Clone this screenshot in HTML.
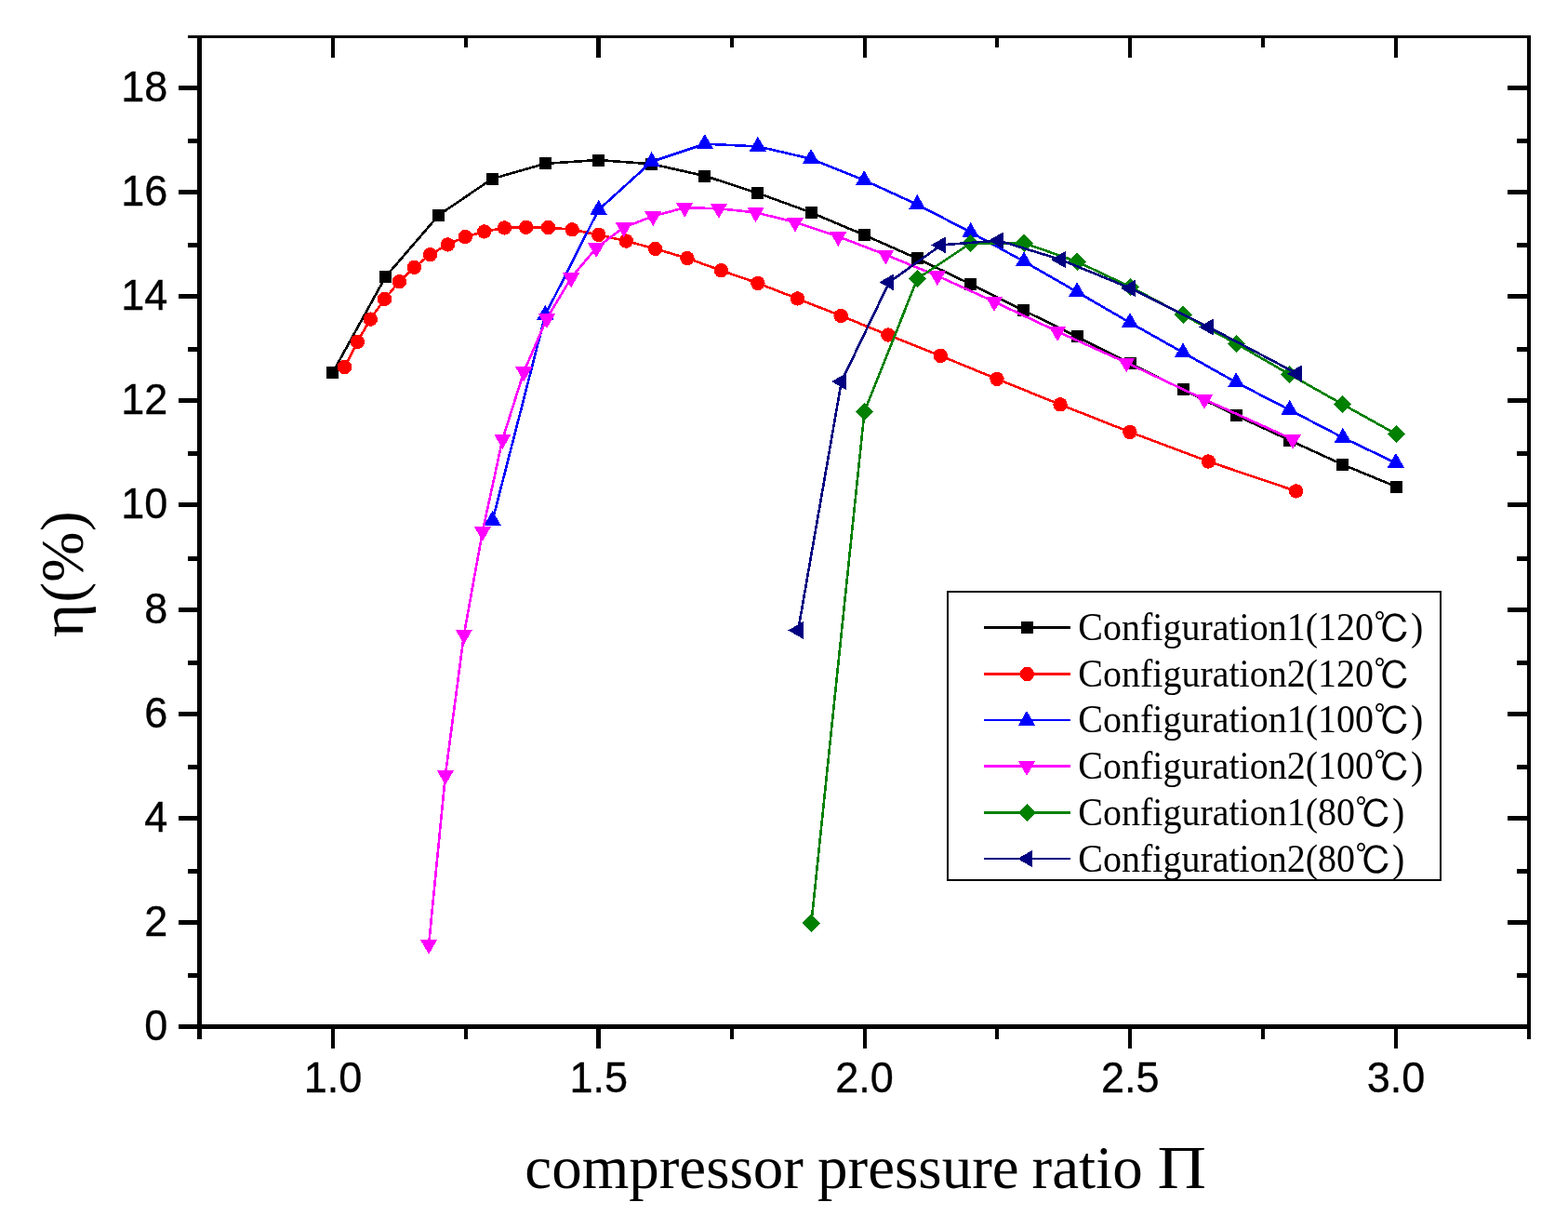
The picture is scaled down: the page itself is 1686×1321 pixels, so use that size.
<!DOCTYPE html>
<html lang="en">
<head>
<meta charset="utf-8">
<title>Efficiency vs compressor pressure ratio</title>
<style>
html,body{margin:0;padding:0;background:#fff;}
body{width:1686px;height:1321px;overflow:hidden;}
svg{display:block;}
</style>
</head>
<body>
<svg width="1686" height="1321" viewBox="0 0 1686 1321">
<rect x="0" y="0" width="1686" height="1321" fill="#ffffff"/>
<g shape-rendering="crispEdges">
<rect x="212" y="38" width="5" height="1079" fill="#000"/>
<rect x="1642" y="38" width="4" height="1079" fill="#000"/>
<rect x="202" y="38" width="1444" height="3" fill="#000"/>
<rect x="192" y="1101" width="1454" height="5" fill="#000"/>
<rect x="202" y="1046" width="10" height="5" fill="#000"/>
<rect x="1631" y="1046" width="11" height="5" fill="#000"/>
<rect x="192" y="989" width="20" height="5" fill="#000"/>
<rect x="1621" y="989" width="21" height="5" fill="#000"/>
<rect x="202" y="934" width="10" height="5" fill="#000"/>
<rect x="1631" y="934" width="11" height="5" fill="#000"/>
<rect x="192" y="877" width="20" height="5" fill="#000"/>
<rect x="1621" y="877" width="21" height="5" fill="#000"/>
<rect x="202" y="822" width="10" height="5" fill="#000"/>
<rect x="1631" y="822" width="11" height="5" fill="#000"/>
<rect x="192" y="765" width="20" height="5" fill="#000"/>
<rect x="1621" y="765" width="21" height="5" fill="#000"/>
<rect x="202" y="710" width="10" height="5" fill="#000"/>
<rect x="1631" y="710" width="11" height="5" fill="#000"/>
<rect x="192" y="653" width="20" height="5" fill="#000"/>
<rect x="1621" y="653" width="21" height="5" fill="#000"/>
<rect x="202" y="598" width="10" height="5" fill="#000"/>
<rect x="1631" y="598" width="11" height="5" fill="#000"/>
<rect x="192" y="540" width="20" height="5" fill="#000"/>
<rect x="1621" y="540" width="21" height="5" fill="#000"/>
<rect x="202" y="485" width="10" height="5" fill="#000"/>
<rect x="1631" y="485" width="11" height="5" fill="#000"/>
<rect x="192" y="428" width="20" height="5" fill="#000"/>
<rect x="1621" y="428" width="21" height="5" fill="#000"/>
<rect x="202" y="373" width="10" height="5" fill="#000"/>
<rect x="1631" y="373" width="11" height="5" fill="#000"/>
<rect x="192" y="316" width="20" height="5" fill="#000"/>
<rect x="1621" y="316" width="21" height="5" fill="#000"/>
<rect x="202" y="261" width="10" height="5" fill="#000"/>
<rect x="1631" y="261" width="11" height="5" fill="#000"/>
<rect x="192" y="204" width="20" height="5" fill="#000"/>
<rect x="1621" y="204" width="21" height="5" fill="#000"/>
<rect x="202" y="149" width="10" height="5" fill="#000"/>
<rect x="1631" y="149" width="11" height="5" fill="#000"/>
<rect x="192" y="92" width="20" height="5" fill="#000"/>
<rect x="1621" y="92" width="21" height="5" fill="#000"/>
<rect x="356" y="1106" width="4" height="21" fill="#000"/>
<rect x="356" y="41" width="4" height="21" fill="#000"/>
<rect x="499" y="1106" width="4" height="11" fill="#000"/>
<rect x="499" y="41" width="4" height="10" fill="#000"/>
<rect x="641" y="1106" width="5" height="21" fill="#000"/>
<rect x="641" y="41" width="5" height="21" fill="#000"/>
<rect x="785" y="1106" width="4" height="11" fill="#000"/>
<rect x="785" y="41" width="4" height="10" fill="#000"/>
<rect x="928" y="1106" width="4" height="21" fill="#000"/>
<rect x="928" y="41" width="4" height="21" fill="#000"/>
<rect x="1070" y="1106" width="4" height="11" fill="#000"/>
<rect x="1070" y="41" width="4" height="10" fill="#000"/>
<rect x="1213" y="1106" width="4" height="21" fill="#000"/>
<rect x="1213" y="41" width="4" height="21" fill="#000"/>
<rect x="1356" y="1106" width="4" height="11" fill="#000"/>
<rect x="1356" y="41" width="4" height="10" fill="#000"/>
<rect x="1499" y="1106" width="4" height="21" fill="#000"/>
<rect x="1499" y="41" width="4" height="21" fill="#000"/>
</g>
<g font-family="'Liberation Sans', Arial, Helvetica, sans-serif" font-size="46.8px" fill="#000" stroke="#000" stroke-width="0.35">
<text transform="translate(180.2,1117.9) scale(0.962,1)" text-anchor="end">0</text>
<text transform="translate(180.2,1005.8) scale(0.962,1)" text-anchor="end">2</text>
<text transform="translate(180.2,893.7) scale(0.962,1)" text-anchor="end">4</text>
<text transform="translate(180.2,781.6) scale(0.962,1)" text-anchor="end">6</text>
<text transform="translate(180.2,669.5) scale(0.962,1)" text-anchor="end">8</text>
<text transform="translate(180.2,557.4) scale(0.962,1)" text-anchor="end">10</text>
<text transform="translate(180.2,445.3) scale(0.962,1)" text-anchor="end">12</text>
<text transform="translate(180.2,333.2) scale(0.962,1)" text-anchor="end">14</text>
<text transform="translate(180.2,221.1) scale(0.962,1)" text-anchor="end">16</text>
<text transform="translate(180.2,109.0) scale(0.962,1)" text-anchor="end">18</text>
<text transform="translate(358.0,1174.2) scale(0.962,1)" text-anchor="middle">1.0</text>
<text transform="translate(643.8,1174.2) scale(0.962,1)" text-anchor="middle">1.5</text>
<text transform="translate(929.5,1174.2) scale(0.962,1)" text-anchor="middle">2.0</text>
<text transform="translate(1215.2,1174.2) scale(0.962,1)" text-anchor="middle">2.5</text>
<text transform="translate(1501.0,1174.2) scale(0.962,1)" text-anchor="middle">3.0</text>
</g>
<g font-family="'Liberation Serif', 'Times New Roman', serif" font-size="65px" fill="#000">
<text transform="translate(0,1277.2) scale(1,1.02)" xml:space="preserve"><tspan x="564.3">compressor</tspan> <tspan x="879.1">pressure</tspan> <tspan x="1109.6">ratio</tspan> <tspan x="1244.6" textLength="52.5" lengthAdjust="spacingAndGlyphs">Π</tspan></text>
<text transform="translate(88.5,685) rotate(-90) scale(1,1.02)"><tspan x="0" textLength="36.4" lengthAdjust="spacingAndGlyphs">η</tspan><tspan x="37.6">(</tspan><tspan x="59.2">%</tspan><tspan x="114">)</tspan></text>
</g>
<g shape-rendering="crispEdges">
<g>
<polyline points="357.5,400.9 414.6,297.5 471.7,231.3 529.0,192.3 586.2,175.9 643.4,172.0 700.6,176.3 757.7,189.0 814.9,207.6 872.0,228.4 929.2,252.6 986.4,277.9 1043.6,305.4 1100.8,333.7 1158.0,361.9 1215.1,390.4 1272.3,418.9 1329.4,446.6 1386.6,473.2 1443.8,499.4 1501.0,523.0" fill="none" stroke="#000000" stroke-width="2.6" stroke-linejoin="round"/>
<rect x="351.0" y="394.4" width="13" height="13" fill="#000000"/>
<rect x="408.1" y="291.0" width="13" height="13" fill="#000000"/>
<rect x="465.2" y="224.8" width="13" height="13" fill="#000000"/>
<rect x="522.5" y="185.8" width="13" height="13" fill="#000000"/>
<rect x="579.7" y="169.4" width="13" height="13" fill="#000000"/>
<rect x="636.9" y="165.5" width="13" height="13" fill="#000000"/>
<rect x="694.1" y="169.8" width="13" height="13" fill="#000000"/>
<rect x="751.2" y="182.5" width="13" height="13" fill="#000000"/>
<rect x="808.4" y="201.1" width="13" height="13" fill="#000000"/>
<rect x="865.5" y="221.9" width="13" height="13" fill="#000000"/>
<rect x="922.7" y="246.1" width="13" height="13" fill="#000000"/>
<rect x="979.9" y="271.4" width="13" height="13" fill="#000000"/>
<rect x="1037.1" y="298.9" width="13" height="13" fill="#000000"/>
<rect x="1094.3" y="327.2" width="13" height="13" fill="#000000"/>
<rect x="1151.5" y="355.4" width="13" height="13" fill="#000000"/>
<rect x="1208.6" y="383.9" width="13" height="13" fill="#000000"/>
<rect x="1265.8" y="412.4" width="13" height="13" fill="#000000"/>
<rect x="1322.9" y="440.1" width="13" height="13" fill="#000000"/>
<rect x="1380.1" y="466.7" width="13" height="13" fill="#000000"/>
<rect x="1437.3" y="492.9" width="13" height="13" fill="#000000"/>
<rect x="1494.5" y="516.5" width="13" height="13" fill="#000000"/>
</g>
<g>
<polyline points="370.5,394.6 384.3,367.3 398.3,343.1 413.5,321.4 429.4,302.8 445.4,287.3 462.6,273.7 481.4,262.9 500.2,254.6 520.7,248.9 542.4,244.9 565.7,244.3 589.5,244.5 615.2,246.8 643.8,252.4 673.3,259.1 704.6,267.4 739.0,277.6 775.4,290.7 814.9,304.4 857.5,321.0 904.2,339.5 954.9,360.0 1011.2,382.4 1072.0,407.4 1140.0,434.8 1214.9,464.4 1299.3,496.0 1393.6,527.9" fill="none" stroke="#ff0000" stroke-width="2.6" stroke-linejoin="round"/>
<circle cx="370.5" cy="394.6" r="7.7" fill="#ff0000"/>
<circle cx="384.3" cy="367.3" r="7.7" fill="#ff0000"/>
<circle cx="398.3" cy="343.1" r="7.7" fill="#ff0000"/>
<circle cx="413.5" cy="321.4" r="7.7" fill="#ff0000"/>
<circle cx="429.4" cy="302.8" r="7.7" fill="#ff0000"/>
<circle cx="445.4" cy="287.3" r="7.7" fill="#ff0000"/>
<circle cx="462.6" cy="273.7" r="7.7" fill="#ff0000"/>
<circle cx="481.4" cy="262.9" r="7.7" fill="#ff0000"/>
<circle cx="500.2" cy="254.6" r="7.7" fill="#ff0000"/>
<circle cx="520.7" cy="248.9" r="7.7" fill="#ff0000"/>
<circle cx="542.4" cy="244.9" r="7.7" fill="#ff0000"/>
<circle cx="565.7" cy="244.3" r="7.7" fill="#ff0000"/>
<circle cx="589.5" cy="244.5" r="7.7" fill="#ff0000"/>
<circle cx="615.2" cy="246.8" r="7.7" fill="#ff0000"/>
<circle cx="643.8" cy="252.4" r="7.7" fill="#ff0000"/>
<circle cx="673.3" cy="259.1" r="7.7" fill="#ff0000"/>
<circle cx="704.6" cy="267.4" r="7.7" fill="#ff0000"/>
<circle cx="739.0" cy="277.6" r="7.7" fill="#ff0000"/>
<circle cx="775.4" cy="290.7" r="7.7" fill="#ff0000"/>
<circle cx="814.9" cy="304.4" r="7.7" fill="#ff0000"/>
<circle cx="857.5" cy="321.0" r="7.7" fill="#ff0000"/>
<circle cx="904.2" cy="339.5" r="7.7" fill="#ff0000"/>
<circle cx="954.9" cy="360.0" r="7.7" fill="#ff0000"/>
<circle cx="1011.2" cy="382.4" r="7.7" fill="#ff0000"/>
<circle cx="1072.0" cy="407.4" r="7.7" fill="#ff0000"/>
<circle cx="1140.0" cy="434.8" r="7.7" fill="#ff0000"/>
<circle cx="1214.9" cy="464.4" r="7.7" fill="#ff0000"/>
<circle cx="1299.3" cy="496.0" r="7.7" fill="#ff0000"/>
<circle cx="1393.6" cy="527.9" r="7.7" fill="#ff0000"/>
</g>
<g>
<polyline points="529.6,559.5 586.4,338.4 643.6,225.6 700.7,173.8 757.8,154.7 814.9,157.4 872.0,170.7 929.2,193.7 986.3,219.8 1043.6,249.6 1101.0,281.0 1158.1,313.8 1215.0,346.8 1272.0,378.9 1329.2,411.0 1386.6,440.6 1443.9,470.4 1500.9,497.6" fill="none" stroke="#0000ff" stroke-width="2.6" stroke-linejoin="round"/>
<polygon points="529.6,548.8 538.8,564.8 520.4,564.8" fill="#0000ff"/>
<polygon points="586.4,327.7 595.6,343.7 577.2,343.7" fill="#0000ff"/>
<polygon points="643.6,214.9 652.8,230.9 634.4,230.9" fill="#0000ff"/>
<polygon points="700.7,163.1 709.9,179.1 691.5,179.1" fill="#0000ff"/>
<polygon points="757.8,144.0 767.0,160.0 748.6,160.0" fill="#0000ff"/>
<polygon points="814.9,146.7 824.1,162.7 805.7,162.7" fill="#0000ff"/>
<polygon points="872.0,160.0 881.2,176.0 862.8,176.0" fill="#0000ff"/>
<polygon points="929.2,183.0 938.4,199.0 920.0,199.0" fill="#0000ff"/>
<polygon points="986.3,209.1 995.5,225.1 977.1,225.1" fill="#0000ff"/>
<polygon points="1043.6,238.9 1052.8,254.9 1034.4,254.9" fill="#0000ff"/>
<polygon points="1101.0,270.3 1110.2,286.3 1091.8,286.3" fill="#0000ff"/>
<polygon points="1158.1,303.1 1167.3,319.1 1148.9,319.1" fill="#0000ff"/>
<polygon points="1215.0,336.1 1224.2,352.1 1205.8,352.1" fill="#0000ff"/>
<polygon points="1272.0,368.2 1281.2,384.2 1262.8,384.2" fill="#0000ff"/>
<polygon points="1329.2,400.3 1338.4,416.3 1320.0,416.3" fill="#0000ff"/>
<polygon points="1386.6,429.9 1395.8,445.9 1377.4,445.9" fill="#0000ff"/>
<polygon points="1443.9,459.7 1453.1,475.7 1434.7,475.7" fill="#0000ff"/>
<polygon points="1500.9,486.9 1510.1,502.9 1491.7,502.9" fill="#0000ff"/>
</g>
<g>
<polyline points="461.1,1015.2 478.9,833.3 498.9,682.0 518.9,571.1 540.4,472.1 563.3,399.6 588.0,342.4 614.1,298.7 641.1,266.5 670.8,244.4 702.2,232.4 736.2,223.2 772.9,224.2 812.5,228.4 855.0,238.9 901.3,254.2 952.4,273.9 1007.9,296.5 1069.0,324.3 1137.1,356.4 1211.3,389.9 1295.0,429.3 1389.9,472.2" fill="none" stroke="#ff00ff" stroke-width="2.6" stroke-linejoin="round"/>
<polygon points="461.1,1025.9 470.3,1009.9 451.9,1009.9" fill="#ff00ff"/>
<polygon points="478.9,844.0 488.1,828.0 469.7,828.0" fill="#ff00ff"/>
<polygon points="498.9,692.7 508.1,676.7 489.7,676.7" fill="#ff00ff"/>
<polygon points="518.9,581.8 528.1,565.8 509.7,565.8" fill="#ff00ff"/>
<polygon points="540.4,482.8 549.6,466.8 531.2,466.8" fill="#ff00ff"/>
<polygon points="563.3,410.3 572.5,394.3 554.1,394.3" fill="#ff00ff"/>
<polygon points="588.0,353.1 597.2,337.1 578.8,337.1" fill="#ff00ff"/>
<polygon points="614.1,309.4 623.3,293.4 604.9,293.4" fill="#ff00ff"/>
<polygon points="641.1,277.2 650.3,261.2 631.9,261.2" fill="#ff00ff"/>
<polygon points="670.8,255.1 680.0,239.1 661.6,239.1" fill="#ff00ff"/>
<polygon points="702.2,243.1 711.4,227.1 693.0,227.1" fill="#ff00ff"/>
<polygon points="736.2,233.9 745.4,217.9 727.0,217.9" fill="#ff00ff"/>
<polygon points="772.9,234.9 782.1,218.9 763.7,218.9" fill="#ff00ff"/>
<polygon points="812.5,239.1 821.7,223.1 803.3,223.1" fill="#ff00ff"/>
<polygon points="855.0,249.6 864.2,233.6 845.8,233.6" fill="#ff00ff"/>
<polygon points="901.3,264.9 910.5,248.9 892.1,248.9" fill="#ff00ff"/>
<polygon points="952.4,284.6 961.6,268.6 943.2,268.6" fill="#ff00ff"/>
<polygon points="1007.9,307.2 1017.1,291.2 998.7,291.2" fill="#ff00ff"/>
<polygon points="1069.0,335.0 1078.2,319.0 1059.8,319.0" fill="#ff00ff"/>
<polygon points="1137.1,367.1 1146.3,351.1 1127.9,351.1" fill="#ff00ff"/>
<polygon points="1211.3,400.6 1220.5,384.6 1202.1,384.6" fill="#ff00ff"/>
<polygon points="1295.0,440.0 1304.2,424.0 1285.8,424.0" fill="#ff00ff"/>
<polygon points="1389.9,482.9 1399.1,466.9 1380.7,466.9" fill="#ff00ff"/>
</g>
<g>
<polyline points="872.4,992.2 929.5,442.4 986.5,299.4 1043.7,261.4 1101.2,261.3 1158.3,281.3 1215.4,308.4 1272.2,338.4 1329.5,369.5 1386.6,402.4 1443.7,434.6 1501.3,466.6" fill="none" stroke="#008000" stroke-width="2.6" stroke-linejoin="round"/>
<polygon points="872.4,982.6 882.0,992.2 872.4,1001.8 862.8,992.2" fill="#008000"/>
<polygon points="929.5,432.8 939.1,442.4 929.5,452.0 919.9,442.4" fill="#008000"/>
<polygon points="986.5,289.8 996.1,299.4 986.5,309.0 976.9,299.4" fill="#008000"/>
<polygon points="1043.7,251.8 1053.3,261.4 1043.7,271.0 1034.1,261.4" fill="#008000"/>
<polygon points="1101.2,251.7 1110.8,261.3 1101.2,270.9 1091.6,261.3" fill="#008000"/>
<polygon points="1158.3,271.7 1167.9,281.3 1158.3,290.9 1148.7,281.3" fill="#008000"/>
<polygon points="1215.4,298.8 1225.0,308.4 1215.4,318.0 1205.8,308.4" fill="#008000"/>
<polygon points="1272.2,328.8 1281.8,338.4 1272.2,348.0 1262.6,338.4" fill="#008000"/>
<polygon points="1329.5,359.9 1339.1,369.5 1329.5,379.1 1319.9,369.5" fill="#008000"/>
<polygon points="1386.6,392.8 1396.2,402.4 1386.6,412.0 1377.0,402.4" fill="#008000"/>
<polygon points="1443.7,425.0 1453.3,434.6 1443.7,444.2 1434.1,434.6" fill="#008000"/>
<polygon points="1501.3,457.0 1510.9,466.6 1501.3,476.2 1491.7,466.6" fill="#008000"/>
</g>
<g>
<polyline points="858.2,677.5 904.8,410.1 956.1,303.4 1011.9,263.4 1073.7,258.5 1140.6,279.1 1215.6,309.9 1299.6,351.5 1394.6,401.6" fill="none" stroke="#000080" stroke-width="2.6" stroke-linejoin="round"/>
<polygon points="847.5,677.5 863.5,668.3 863.5,686.7" fill="#000080"/>
<polygon points="894.1,410.1 910.1,400.9 910.1,419.3" fill="#000080"/>
<polygon points="945.4,303.4 961.4,294.2 961.4,312.6" fill="#000080"/>
<polygon points="1001.2,263.4 1017.2,254.2 1017.2,272.6" fill="#000080"/>
<polygon points="1063.0,258.5 1079.0,249.3 1079.0,267.7" fill="#000080"/>
<polygon points="1129.9,279.1 1145.9,269.9 1145.9,288.3" fill="#000080"/>
<polygon points="1204.9,309.9 1220.9,300.7 1220.9,319.1" fill="#000080"/>
<polygon points="1288.9,351.5 1304.9,342.3 1304.9,360.7" fill="#000080"/>
<polygon points="1383.9,401.6 1399.9,392.4 1399.9,410.8" fill="#000080"/>
</g>
</g>
<rect x="1019" y="636" width="530" height="310" fill="#fff" stroke="#000" stroke-width="2.2" shape-rendering="crispEdges"/>
<g shape-rendering="crispEdges">
<rect x="1058" y="673" width="93" height="3" fill="#000000" shape-rendering="crispEdges"/>
<rect x="1098.0" y="668.0" width="13" height="13" fill="#000000"/>
<rect x="1058" y="723" width="93" height="3" fill="#ff0000" shape-rendering="crispEdges"/>
<circle cx="1104.4" cy="724.5" r="7.7" fill="#ff0000"/>
<rect x="1058" y="773" width="93" height="2" fill="#0000ff" shape-rendering="crispEdges"/>
<polygon points="1104.0,763.9 1113.2,779.9 1094.8,779.9" fill="#0000ff"/>
<rect x="1058" y="822" width="93" height="3" fill="#ff00ff" shape-rendering="crispEdges"/>
<polygon points="1104.0,834.0 1113.2,818.0 1094.8,818.0" fill="#ff00ff"/>
<rect x="1058" y="872" width="93" height="3" fill="#008000" shape-rendering="crispEdges"/>
<polygon points="1104.4,863.9 1114.0,873.5 1104.4,883.1 1094.8,873.5" fill="#008000"/>
<rect x="1058" y="922" width="93" height="2" fill="#000080" shape-rendering="crispEdges"/>
<polygon points="1094.1,923.0 1110.1,913.8 1110.1,932.2" fill="#000080"/>
</g>
<g font-family="'Liberation Serif', 'IPAGothic', 'Noto Serif CJK SC', serif" font-size="40px" fill="#000">
<text transform="translate(1159.3,687.7) scale(1,1.03)">Configuration1(120<tspan dy="3">℃</tspan><tspan dy="-3">)</tspan></text>
<text transform="translate(1159.3,737.5) scale(1,1.03)">Configuration2(120<tspan dy="3">℃</tspan></text>
<text transform="translate(1159.3,787.2) scale(1,1.03)">Configuration1(100<tspan dy="3">℃</tspan><tspan dy="-3">)</tspan></text>
<text transform="translate(1159.3,837.0) scale(1,1.03)">Configuration2(100<tspan dy="3">℃</tspan><tspan dy="-3">)</tspan></text>
<text transform="translate(1159.3,886.7) scale(1,1.03)">Configuration1(80<tspan dy="3">℃</tspan><tspan dy="-3">)</tspan></text>
<text transform="translate(1159.3,936.5) scale(1,1.03)">Configuration2(80<tspan dy="3">℃</tspan><tspan dy="-3">)</tspan></text>
</g>
</svg>
</body>
</html>
